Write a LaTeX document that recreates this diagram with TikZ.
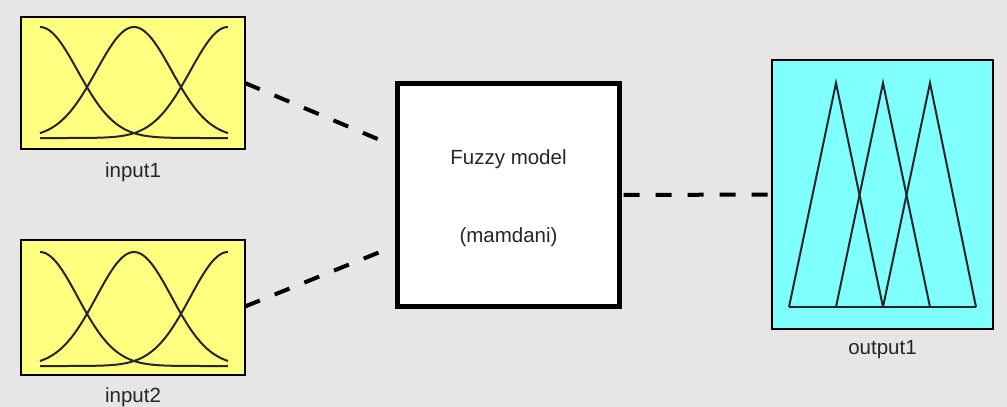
\documentclass[tikz,border=0pt]{standalone}
\usepackage{fontspec}
\setmainfont{Liberation Sans}
\definecolor{bgc}{HTML}{E6E6E6}
\definecolor{inyel}{HTML}{FFFF80}
\definecolor{outcy}{HTML}{80FFFF}
\definecolor{txt}{HTML}{262626}
\begin{document}
\begin{tikzpicture}[x=1pt,y=-1pt,
  mfbox/.style={draw=black,line width=2pt,inner sep=0pt,outer sep=0pt},
  modelbox/.style={draw=black,line width=5pt,fill=white,inner sep=0pt,outer sep=0pt,minimum width=222pt,minimum height=223pt},
  lbl/.style={font=\fontsize{20.5}{24}\selectfont,text=txt,inner sep=0pt},
  conn/.style={line width=4pt,dash pattern=on 16pt off 16pt},
  mf/.style={line width=2pt,black!85}]
\useasboundingbox (0,0) rectangle (1007,407);
\fill[bgc] (0,0) rectangle (1007,407);
% boxes
\node[mfbox,fill=inyel,minimum width=224pt,minimum height=132pt] (in1) at (133,83) {};
\node[mfbox,fill=inyel,minimum width=224pt,minimum height=135pt] (in2) at (133,307.5) {};
\node[modelbox] (fz) at (508.5,195) {};
\node[mfbox,fill=outcy,minimum width=221pt,minimum height=269pt] (out) at (882.5,194.5) {};
% labels
\node[lbl] (l1) at (133,172) {input1};
\node[lbl] (l2) at (133,397) {input2};
\node[lbl] (lo) at (882.5,350) {output1};
\node[lbl] (t1) at (508.5,159) {Fuzzy model};
\node[lbl] (t2) at (508.5,237) {(mamdani)};
% gaussian mfs input1
\draw[mf] plot[domain=0:5,samples=70,smooth] ({40+37.6*\x},{138-111*exp(-((\x)^2)/2)});
\draw[mf] plot[domain=-2.5:2.5,samples=70,smooth] ({134+37.6*\x},{138-111*exp(-((\x)^2)/2)});
\draw[mf] plot[domain=-5:0,samples=70,smooth] ({228+37.6*\x},{138-111*exp(-((\x)^2)/2)});
% gaussian mfs input2
\draw[mf] plot[domain=0:5,samples=70,smooth] ({40+37.6*\x},{366-114*exp(-((\x)^2)/2)});
\draw[mf] plot[domain=-2.5:2.5,samples=70,smooth] ({134+37.6*\x},{366-114*exp(-((\x)^2)/2)});
\draw[mf] plot[domain=-5:0,samples=70,smooth] ({228+37.6*\x},{366-114*exp(-((\x)^2)/2)});
% triangular mfs output
\draw[mf,line join=miter] (789,307) -- (836,83) -- (883,307);
\draw[mf,line join=miter] (836,307) -- (883,83) -- (930,307);
\draw[mf,line join=miter] (883,307) -- (930,83) -- (976,307);
\draw[mf] (789,307) -- (976,307);
% connectors
\coordinate (e1) at (380,140);
\coordinate (e2) at (380,252);
\draw[conn] (in1.east) -- (e1);
\draw[conn] (in2.east) ++(0,-1) -- (e2);
\draw[conn] (fz.east) ++(4,0) -- (out.west);
\end{tikzpicture}
\end{document}
